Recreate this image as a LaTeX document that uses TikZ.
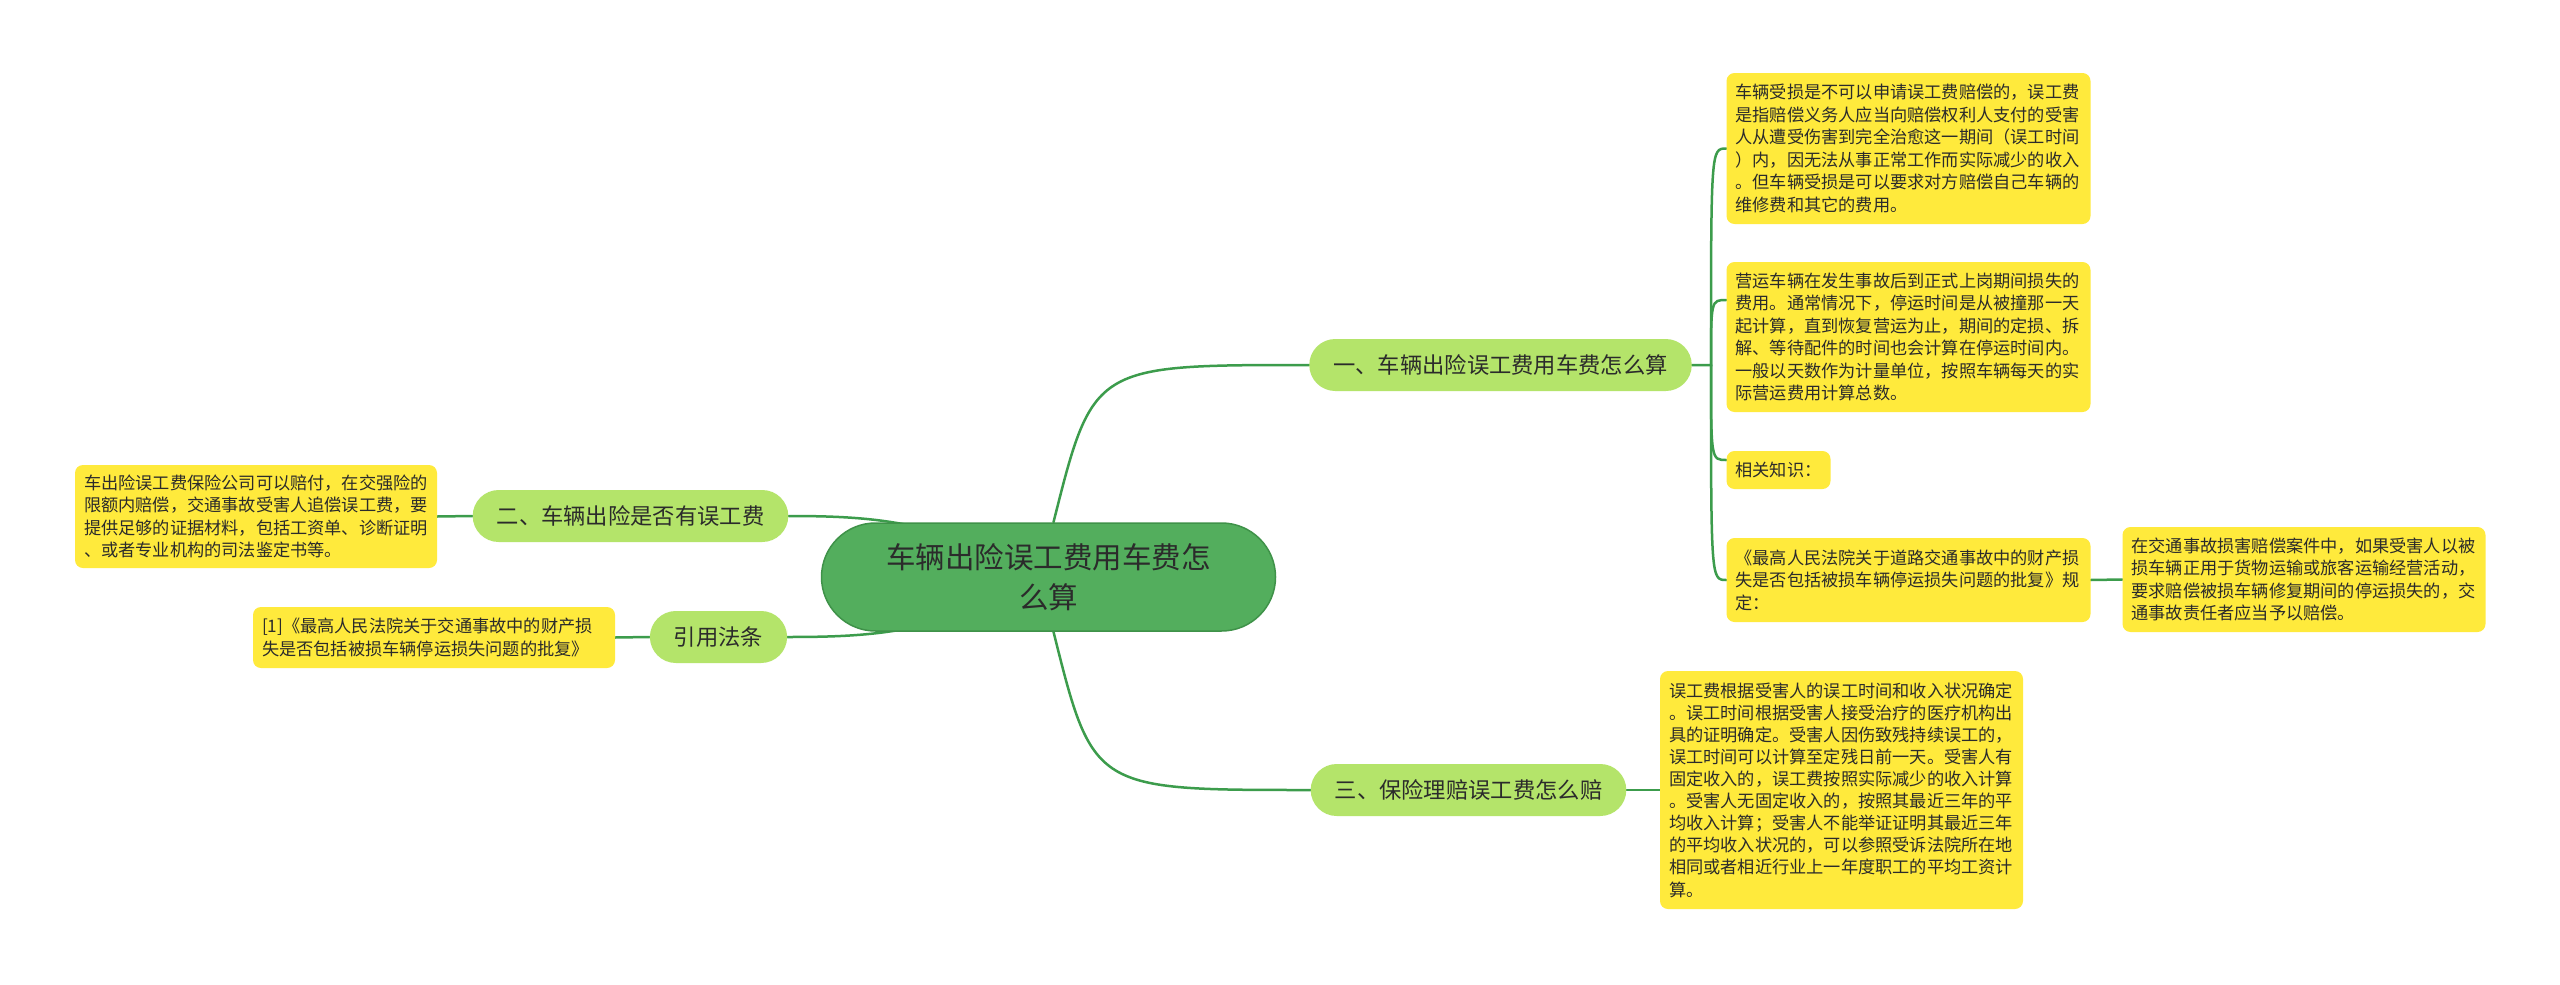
\documentclass[tikz,border=0pt]{standalone}
\usepackage{fontspec}
\newfontfamily\cjk{Noto Sans CJK SC}
\definecolor{rootgreen}{HTML}{53AE5D}
\definecolor{rootborder}{HTML}{3F9249}
\definecolor{branchgreen}{HTML}{B4E46A}
\definecolor{leafyellow}{HTML}{FFEA3C}
\definecolor{linegreen}{HTML}{3C9C4C}
\definecolor{textc}{HTML}{2B2B2B}
\pgfdeclarelayer{bg}
\pgfdeclarelayer{lines}
\pgfsetlayers{bg,lines,main}
\tikzset{
  rootbox/.style={fill=rootgreen, draw=rootborder, line width=1.5pt, rounded corners=54pt,
    minimum width=454pt, minimum height=108pt, align=center, text=textc,
    font=\cjk\fontsize{29.5}{40}\selectfont},
  branchbox/.style={fill=branchgreen, rounded corners=26pt, minimum height=52pt,
    inner xsep=24pt, inner ysep=0pt, text=textc, font=\cjk\fontsize{22.3}{26}\selectfont},
  leafbox/.style={fill=leafyellow, rounded corners=8pt, inner xsep=9pt, inner ysep=6pt,
    align=left, text=textc, font=\cjk\fontsize{17.2}{22.5}\selectfont},
  conn/.style={draw=linegreen, line width=2.5pt, line cap=round}
}
\begin{document}
\begin{tikzpicture}[x=1pt,y=-1pt]
\begin{pgfonlayer}{bg}
\fill[white] (0,0) rectangle (2560,985);
\end{pgfonlayer}
\useasboundingbox (0,0) rectangle (2560,985);

\node[rootbox] (root) at (1048.5,577) {车辆出险误工费用车费怎\\么算};

\node[branchbox] (b1) at (1500.5,365) {一、车辆出险误工费用车费怎么算};
\node[branchbox] (b2) at (630.5,516) {二、车辆出险是否有误工费};
\node[branchbox] (b3) at (718.5,637) {引用法条};
\node[branchbox] (b4) at (1468.5,790) {三、保险理赔误工费怎么赔};

\node[leafbox, text width=346pt, minimum height=151pt] (L1) at (1908.5,148.5) {车辆受损是不可以申请误工费赔偿的，误工费\\是指赔偿义务人应当向赔偿权利人支付的受害\\人从遭受伤害到完全治愈这一期间（误工时间\\）内，因无法从事正常工作而实际减少的收入\\。但车辆受损是可以要求对方赔偿自己车辆的\\维修费和其它的费用。};
\node[leafbox, text width=346pt, minimum height=150pt] (L2) at (1908.5,337) {营运车辆在发生事故后到正式上岗期间损失的\\费用。通常情况下，停运时间是从被撞那一天\\起计算，直到恢复营运为止，期间的定损、拆\\解、等待配件的时间也会计算在停运时间内。\\一般以天数作为计量单位，按照车辆每天的实\\际营运费用计算总数。};
\node[leafbox, minimum height=38pt] (L3) at (1778.5,470) {相关知识：};
\node[leafbox, text width=346pt, minimum height=84pt] (L4) at (1908.5,580) {《最高人民法院关于道路交通事故中的财产损\\失是否包括被损车辆停运损失问题的批复》规\\定：};
\node[leafbox, text width=345pt, minimum height=105pt] (L5) at (2304,579.5) {在交通事故损害赔偿案件中，如果受害人以被\\损车辆正用于货物运输或旅客运输经营活动，\\要求赔偿被损车辆修复期间的停运损失的，交\\通事故责任者应当予以赔偿。};
\node[leafbox, text width=345pt, minimum height=238pt, font=\cjk\fontsize{17.2}{22.1}\selectfont] (L6) at (1841.5,790) {误工费根据受害人的误工时间和收入状况确定\\。误工时间根据受害人接受治疗的医疗机构出\\具的证明确定。受害人因伤致残持续误工的，\\误工时间可以计算至定残日前一天。受害人有\\固定收入的，误工费按照实际减少的收入计算\\。受害人无固定收入的，按照其最近三年的平\\均收入计算；受害人不能举证证明其最近三年\\的平均收入状况的，可以参照受诉法院所在地\\相同或者相近行业上一年度职工的平均工资计\\算。};
\node[leafbox, text width=344pt, minimum height=103pt] (L7) at (256,516.5) {车出险误工费保险公司可以赔付，在交强险的\\限额内赔偿，交通事故受害人追偿误工费，要\\提供足够的证据材料，包括工资单、诊断证明\\、或者专业机构的司法鉴定书等。};
\node[leafbox, text width=344pt, minimum height=61pt] (L8) at (434,637.5) {[1]《最高人民法院关于交通事故中的财产损\\失是否包括被损车辆停运损失问题的批复》};

\coordinate (s1) at (1711,365);

\begin{pgfonlayer}{lines}
\path[conn] ([xshift=5pt]root.north) .. controls (1093,365) .. (b1.west);
\path[conn] ([xshift=5pt]root.south) .. controls (1093,790) .. (b4.west);
\path[conn] (b2.east) .. controls (880,516) and (940,522) .. (root.center);
\path[conn] (b3.east) .. controls (880,637) and (940,632) .. (root.center);
\path[conn] (b1.east) -- (s1) .. controls (s1 |- L1.west) .. (L1.west);
\path[conn] (s1) .. controls ([yshift=37pt]s1 |- L2.west) .. ([yshift=37pt]L2.west);
\path[conn] (s1) .. controls ([yshift=10pt]s1 |- L3.west) .. ([yshift=10pt]L3.west);
\path[conn] (s1) .. controls (s1 |- L4.west) .. (L4.west);
\path[conn] (b2.west) -- (L7.east);
\path[conn] (b3.west) -- (L8.east);
\path[conn] (b4.east) -- (L6.west);
\path[conn] (L4.east) -- (L5.west);
\end{pgfonlayer}
\end{tikzpicture}
\end{document}
